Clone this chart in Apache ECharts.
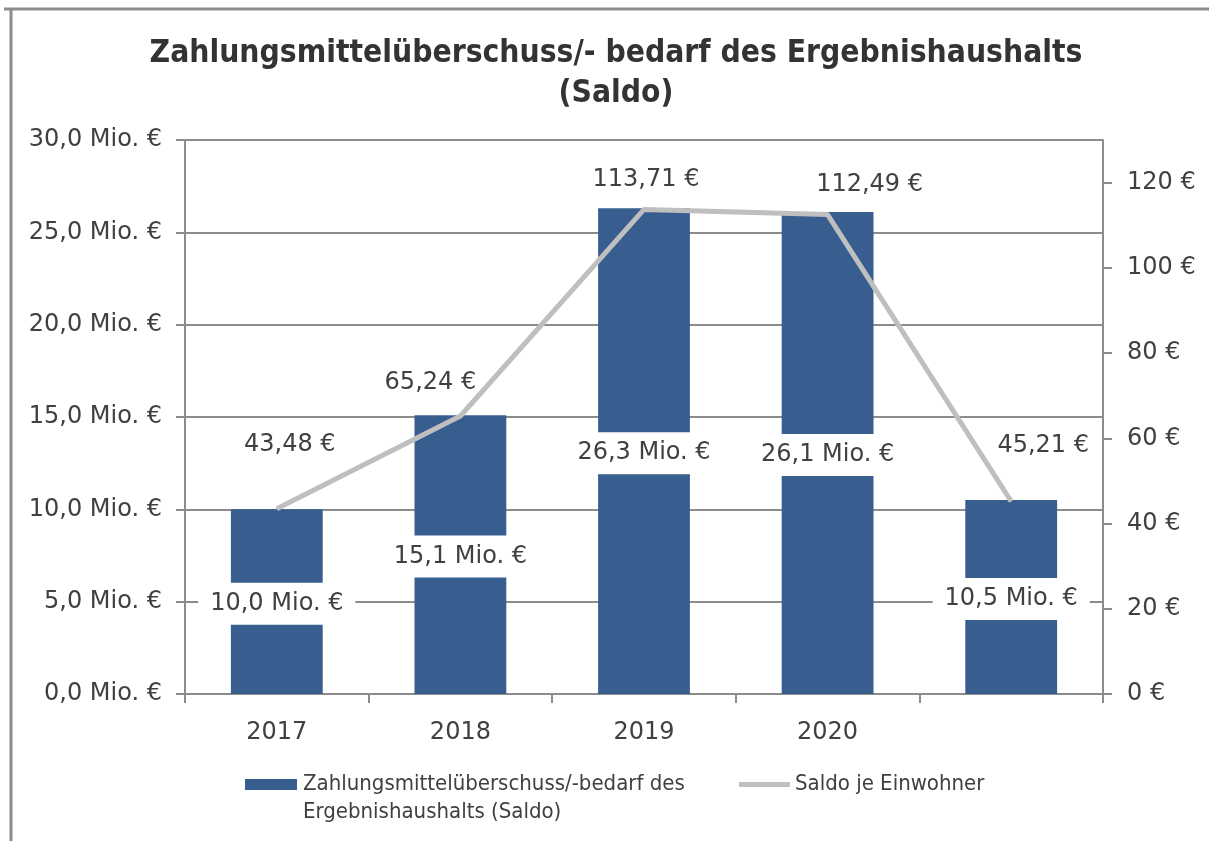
<!DOCTYPE html>
<html>
<head>
<meta charset="utf-8">
<script src="https://cdn.jsdelivr.net/npm/echarts@6/dist/echarts.min.js"></script>
<style>
  html, body { margin: 0; padding: 0; background: #fff; }
  #chart { width: 1209px; height: 841px; }
</style>
</head>
<body>
<div id="chart"></div>
<script>
// ---- data ----
const categories = ['2017', '2018', '2019', '2020', ''];
const saldoMio = [10.0, 15.1, 26.3, 26.1, 10.5];
const saldoJeEinwohner = [43.48, 65.24, 113.71, 112.49, 45.21];
const leftAxisTicks = [0, 5, 10, 15, 20, 25, 30];
const rightAxisTicks = [0, 20, 40, 60, 80, 100, 120];
const barSeriesName = 'Zahlungsmittelüberschuss/-bedarf des\nErgebnishaushalts (Saldo)';
const lineSeriesName = 'Saldo je Einwohner';
const titleText = 'Zahlungsmittelüberschuss/- bedarf des Ergebnishaushalts\n(Saldo)';

// ---- styles ----
const FONT = "'DejaVu Sans', Tahoma, sans-serif";
const FONT_COND = "'DejaVu Sans Condensed', 'DejaVu Sans', sans-serif";
const TEXT = '#404040';
const BAR = '#375E8F';
const LINE = '#BFBFBF';
const AXIS = '#8C8C8C';
// manual label offsets (placement only) for the line labels
const lineLabelOffsets = [[13, -64], [-30, -33], [2, -30], [42, -30], [32, -56]];

const fmtMio = v => v.toFixed(1).replace('.', ',') + ' Mio. €';
const fmtEur2 = v => v.toFixed(2).replace('.', ',') + ' €';

const chart = echarts.init(document.getElementById('chart'), null, { renderer: 'canvas' });

const option = {
  backgroundColor: '#fff',
  animation: false,
  textStyle: { fontFamily: FONT },
  title: {
    text: titleText,
    left: 611,
    top: 29,
    textAlign: 'center',
    textStyle: { fontFamily: FONT_COND, fontWeight: 'bold', fontSize: 31.5, lineHeight: 40, color: '#333' }
  },
  grid: { left: 185, right: 106, top: 140, bottom: 147, containLabel: false },
  xAxis: {
    type: 'category',
    data: categories,
    boundaryGap: true,
    axisLine: { show: true, lineStyle: { color: AXIS, width: 2 } },
    axisTick: { show: true, alignWithLabel: false, length: 9, lineStyle: { color: AXIS, width: 2 } },
    axisLabel: { margin: 27, fontSize: 24, color: TEXT, fontFamily: FONT }
  },
  yAxis: [
    {
      type: 'value',
      min: 0, max: 30, interval: 5,
      axisLine: { show: true, lineStyle: { color: AXIS, width: 2 } },
      axisTick: { show: true, length: 9, lineStyle: { color: AXIS, width: 2 } },
      splitLine: { show: true, lineStyle: { color: AXIS, width: 2 } },
      axisLabel: { margin: 23, fontSize: 24, color: TEXT, fontFamily: FONT, formatter: v => fmtMio(v),
                   customValues: leftAxisTicks }
    },
    {
      type: 'value',
      min: 0, max: 130, interval: 10,
      position: 'right',
      axisLine: { show: true, lineStyle: { color: AXIS, width: 2 } },
      axisTick: { show: true, length: 9, lineStyle: { color: AXIS, width: 2 }, customValues: rightAxisTicks },
      splitLine: { show: false },
      axisLabel: { margin: 24, fontSize: 24, color: TEXT, fontFamily: FONT, formatter: v => v + ' €',
                   customValues: rightAxisTicks }
    }
  ],
  series: [
    {
      name: barSeriesName,
      type: 'bar',
      yAxisIndex: 0,
      data: saldoMio,
      barWidth: '50%',
      itemStyle: { color: BAR },
      z: 2,
      label: {
        show: true,
        position: 'inside',
        offset: [0, 2],
        formatter: p => fmtMio(p.value),
        color: TEXT,
        fontSize: 24,
        fontFamily: FONT,
        backgroundColor: '#fff',
        padding: [9, 12]
      }
    },
    {
      name: lineSeriesName,
      type: 'line',
      yAxisIndex: 1,
      data: saldoJeEinwohner.map((v, i) => ({ value: v, label: { offset: lineLabelOffsets[i] } })),
      symbol: 'circle',
      symbolSize: 1,
      itemStyle: { color: LINE },
      lineStyle: { color: LINE, width: 5 },
      z: 3,
      label: {
        show: true,
        position: 'inside',
        formatter: p => fmtEur2(p.value),
        color: TEXT,
        fontSize: 24,
        fontFamily: FONT
      }
    }
  ],
  graphic: [
    { type: 'line', shape: { x1: 4, y1: 9, x2: 1209, y2: 9 }, style: { stroke: AXIS, lineWidth: 3 } },
    { type: 'line', shape: { x1: 11, y1: 9, x2: 11, y2: 841 }, style: { stroke: AXIS, lineWidth: 3 } },
    // legend
    { type: 'rect', shape: { x: 245, y: 779, width: 52, height: 11 }, style: { fill: BAR } },
    { type: 'text', x: 303, y: 770, style: { text: barSeriesName, font: "22px 'DejaVu Sans Condensed', 'DejaVu Sans', sans-serif", lineHeight: 28, fill: TEXT } },
    { type: 'line', shape: { x1: 739, y1: 784.5, x2: 790, y2: 784.5 }, style: { stroke: LINE, lineWidth: 5 } },
    { type: 'text', x: 795, y: 770, style: { text: lineSeriesName, font: "22px 'DejaVu Sans Condensed', 'DejaVu Sans', sans-serif", lineHeight: 28, fill: TEXT } }
  ]
};

chart.setOption(option);
</script>
</body>
</html>
